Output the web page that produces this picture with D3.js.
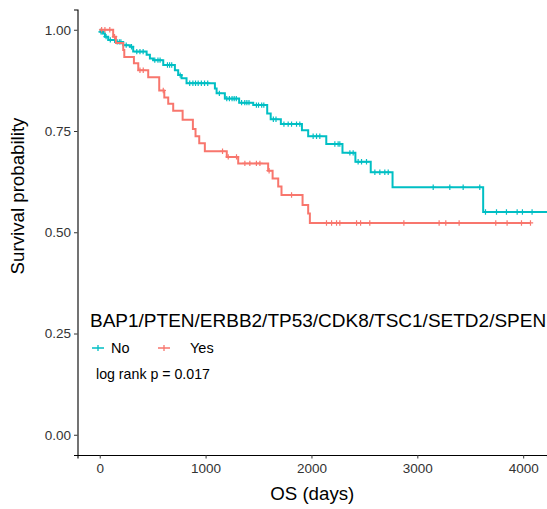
<!DOCTYPE html>
<html lang="en">
<head>
    <meta charset="UTF-8">
    <title>Survival curve</title>
    <style>
        body {
            margin: 0;
            padding: 0;
            background: white;
        }

        svg text {
            font-family: "Liberation Sans", Arial, sans-serif;
        }

        .tick text {
            font-size: 13.5px;
            fill: #333;
        }
    </style>
</head>
<body>
    <script src="https://d3js.org/d3.v7.min.js"></script>
    <script>
        // Kaplan-Meier steps (time in days, survival after the step)
        const noTimes = [0, 8, 33, 49, 80, 144, 222, 285, 316, 443, 474, 505, 600, 710, 741, 773, 820, 1088, 1104, 1182, 1317, 1450, 1582, 1615, 1711, 1910, 1969, 2140, 2293, 2415, 2560, 2766, 3622, 4300];
        const noSurv = [1.0, 0.995, 0.991, 0.983, 0.975, 0.970, 0.962, 0.958, 0.946, 0.938, 0.929, 0.925, 0.913, 0.900, 0.888, 0.880, 0.868, 0.855, 0.843, 0.830, 0.820, 0.814, 0.793, 0.779, 0.767, 0.752, 0.737, 0.718, 0.696, 0.674, 0.648, 0.611, 0.550, 0.550];

        const yesTimes = [0, 127, 153, 222, 232, 323, 364, 458, 562, 610, 647, 694, 783, 880, 905, 940, 993, 1200, 1308, 1591, 1633, 1686, 1717, 1916, 1969, 1985, 4069];
        const yesSurv = [1.0, 0.983, 0.967, 0.950, 0.933, 0.917, 0.900, 0.883, 0.850, 0.833, 0.817, 0.800, 0.778, 0.755, 0.737, 0.720, 0.700, 0.686, 0.670, 0.652, 0.633, 0.613, 0.592, 0.567, 0.546, 0.523, 0.523];

        // censored times
        const noCensor = [12, 22, 60, 100, 165, 185, 200, 250, 300, 350, 380, 410, 520, 550, 570, 640, 660, 680, 760, 850, 880, 905, 930, 960, 990, 1020, 1130, 1200, 1225, 1250, 1270, 1290, 1340, 1370, 1390, 1410, 1480, 1500, 1530, 1550, 1640, 1665, 1740, 1780, 1812, 1859, 1890, 2016, 2048, 2079, 2221, 2252, 2268, 2363, 2394, 2441, 2473, 2520, 2599, 2646, 2693, 2725, 3150, 3307, 3433, 3590, 3644, 3748, 3842, 3943, 3993, 4084];
        const yesCensor = [18, 49, 95, 140, 380, 411, 600, 1160, 1214, 1292, 1371, 1418, 1480, 1513, 1600, 1812, 2142, 2190, 2237, 2268, 2426, 2464, 2551, 2873, 3206, 3269, 3395, 3741, 3848, 3984, 4069];

        const groups = ["No", "Yes"];
        const xTicks = [0, 1000, 2000, 3000, 4000];
        const yTicks = [0, 0.25, 0.5, 0.75, 1];

        const legendTitle = "BAP1/PTEN/ERBB2/TP53/CDK8/TSC1/SETD2/SPEN";
        const pText = "log rank p = 0.017";

        const colors = { No: "#00BFC4", Yes: "#F8766D" };

        const width = 547;
        const height = 509;
        const panel = { left: 77.5, right: 547, top: 9.5, bottom: 455 };

        const xScale = d3.scaleLinear()
            .domain([-210, 4225])
            .range([panel.left, panel.right]);

        const yScale = d3.scaleLinear()
            .domain([-0.05, 1.05])
            .range([panel.bottom, panel.top]);

        const svg = d3.select("body").append("svg")
            .attr("width", width)
            .attr("height", height);

        svg.append("clipPath")
            .attr("id", "clip")
            .append("rect")
            .attr("x", panel.left)
            .attr("y", panel.top)
            .attr("width", panel.right - panel.left)
            .attr("height", panel.bottom - panel.top);

        // build series
        const series = [
            { name: "No", times: noTimes, surv: noSurv, censor: noCensor },
            { name: "Yes", times: yesTimes, surv: yesSurv, censor: yesCensor }
        ];

        function survAt(s, t) {
            let v = s.surv[0];
            for (let i = 0; i < s.times.length; i++) {
                if (s.times[i] <= t) v = s.surv[i];
            }
            return v;
        }

        const line = d3.line()
            .x(d => xScale(d[0]))
            .y(d => yScale(d[1]))
            .curve(d3.curveStepAfter);

        const plot = svg.append("g").attr("clip-path", "url(#clip)");

        series.forEach(s => {
            const pts = s.times.map((t, i) => [t, s.surv[i]]);
            plot.append("path")
                .datum(pts)
                .attr("fill", "none")
                .attr("stroke", colors[s.name])
                .attr("stroke-width", 2)
                .attr("d", line);

            // censor marks "+"
            const cs = 2.7;
            plot.selectAll(".c" + s.name)
                .data(s.censor)
                .enter().append("path")
                .attr("class", "c" + s.name)
                .attr("fill", "none")
                .attr("stroke", colors[s.name])
                .attr("stroke-width", 1.2)
                .attr("d", d => {
                    const cx = xScale(d), cy = yScale(survAt(s, d));
                    return "M" + (cx - cs) + "," + cy + "H" + (cx + cs) +
                        "M" + cx + "," + (cy - cs) + "V" + (cy + cs);
                });
        });

        // axes
        const xAxis = svg.append("g")
            .attr("transform", "translate(0," + panel.bottom + ")")
            .call(d3.axisBottom(xScale).tickValues(xTicks).tickFormat(d3.format("d")).tickSizeOuter(0).tickSize(3.5).tickPadding(5));

        const yAxis = svg.append("g")
            .attr("transform", "translate(" + panel.left + ",0)")
            .call(d3.axisLeft(yScale).tickValues(yTicks).tickFormat(d3.format(".2f")).tickSizeOuter(0).tickSize(3.5).tickPadding(3));

        [xAxis, yAxis].forEach(a => {
            a.select(".domain").attr("stroke", "black").attr("stroke-width", 1.1);
            a.selectAll(".tick line").attr("stroke", "#333").attr("stroke-width", 1);
        });

        // axis titles
        svg.append("text")
            .attr("x", (panel.left + panel.right) / 2)
            .attr("y", 500)
            .attr("text-anchor", "middle")
            .style("font-size", "18.7px")
            .text("OS (days)");

        svg.append("text")
            .attr("transform", "rotate(-90)")
            .attr("x", -196)
            .attr("y", 24)
            .attr("text-anchor", "middle")
            .style("font-size", "18.7px")
            .text("Survival probability");

        // legend
        svg.append("text")
            .attr("x", 90)
            .attr("y", 327)
            .style("font-size", "19px")
            .text(legendTitle);

        const legendX = { No: 98, Yes: 164 };
        groups.forEach(g => {
            const lx = legendX[g], ly = 348;
            svg.append("path")
                .attr("fill", "none")
                .attr("stroke", colors[g])
                .attr("stroke-width", 1.3)
                .attr("d", "M" + (lx - 6) + "," + ly + "H" + (lx + 6) +
                    "M" + lx + "," + (ly - 3) + "V" + (ly + 3));
            svg.append("text")
                .attr("x", g === "No" ? 111 : 190)
                .attr("y", ly + 5)
                .style("font-size", "14.5px")
                .text(g);
        });

        svg.append("text")
            .attr("x", 96)
            .attr("y", 379)
            .style("font-size", "14.2px")
            .text(pText);
    </script>
</body>
</html>
